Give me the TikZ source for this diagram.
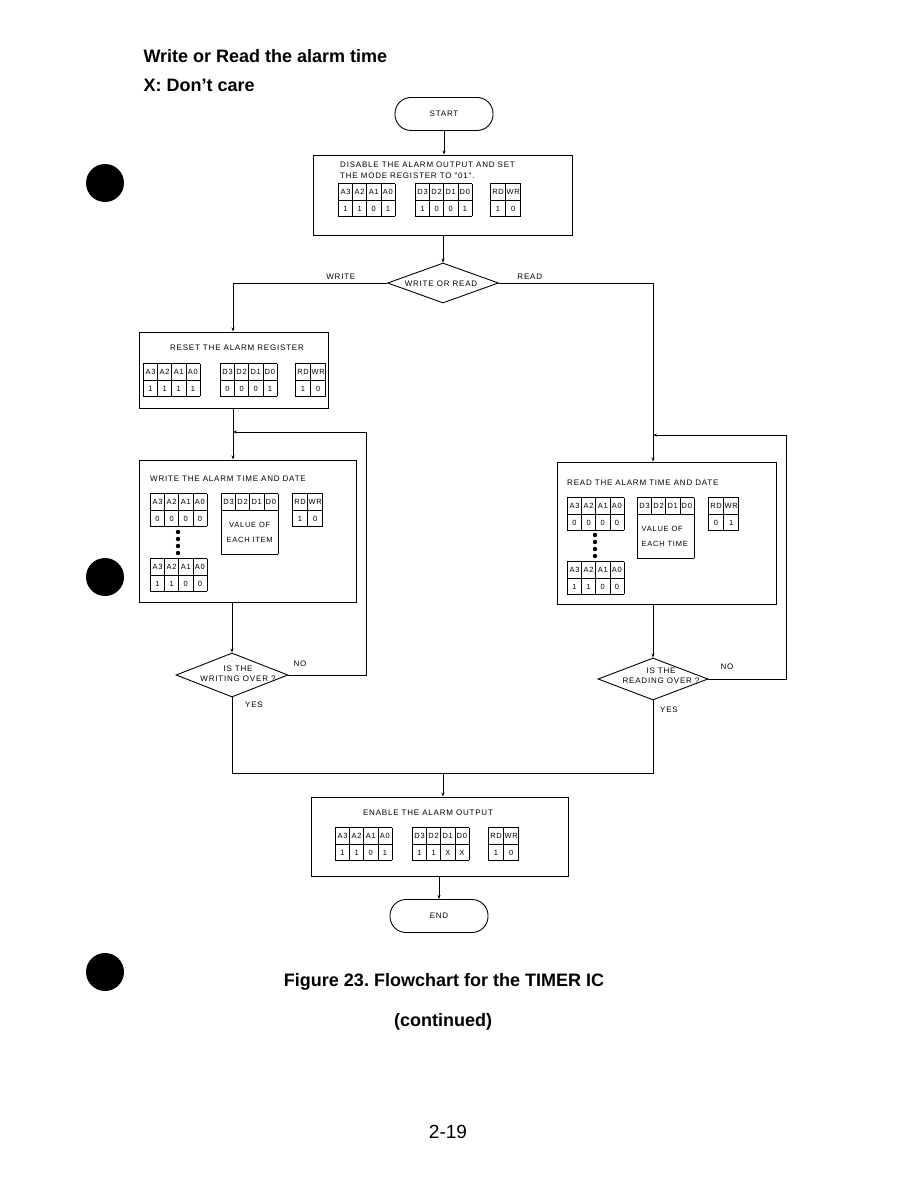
\documentclass[tikz,border=0pt]{standalone}
\usepackage{fontspec}
\setmainfont{Liberation Sans}
\newfontfamily\boxfont[LetterSpace=10]{Liberation Sans}
\usepackage{array}
\usetikzlibrary{arrows.meta,shapes.geometric,positioning}
\newcolumntype{C}{>{\centering\arraybackslash\rule[-5pt]{0pt}{16pt}}p{13.5pt}}
\newcolumntype{W}{>{\centering\arraybackslash\rule[-5pt]{0pt}{16pt}}p{14.5pt}}
\setlength\tabcolsep{0pt}
\setlength\arrayrulewidth{0.6pt}
\frenchspacing
% register tables
\newcommand\addrtab[4]{\begin{tabular}{|C|C|C|C|}\hline A3&A2&A1&A0\\\hline #1&#2&#3&#4\\\hline\end{tabular}}
\newcommand\datatab[4]{\begin{tabular}{|C|C|C|C|}\hline D3&D2&D1&D0\\\hline #1&#2&#3&#4\\\hline\end{tabular}}
\newcommand\rdwrtab[2]{\begin{tabular}{|W|W|}\hline RD&WR\\\hline #1&#2\\\hline\end{tabular}}
\newcommand\valtab[3]{\begin{tabular}{|C|C|C|C|}\hline D3&D2&D1&D0\\\hline
  \multicolumn{4}{|c|}{\parbox[c][44pt][c]{52pt}{#1#2\\[7pt]#3}}\\\hline\end{tabular}}

\begin{document}
\begin{tikzpicture}[x=1pt,y=-1pt,
    box/.style={draw, line width=1pt, inner sep=0pt},
    term/.style={draw, line width=0.9pt, rounded corners=16pt, minimum width=98pt, minimum height=33pt, font=\boxfont\fontsize{8}{9}\selectfont},
    dec/.style={draw, diamond, line width=0.9pt, inner sep=0pt},
    txt/.style={font=\boxfont\fontsize{8}{11.5}\selectfont, inner sep=0pt},
    reg/.style={anchor=north west, inner sep=0pt, font=\boxfont\fontsize{7.5}{8}\selectfont},
    arr/.style={-{Stealth[length=4pt,width=3pt]}, line width=0.8pt},
    ln/.style={line width=0.8pt}
]
\useasboundingbox (0,0) rectangle (918,1188);

% headings
\node[anchor=base west, font=\bfseries\fontsize{18}{20}\selectfont] (head) at (140,63) {Write or Read the alarm time};
\node[anchor=base west, font=\bfseries\fontsize{18}{20}\selectfont] (care) at (140,92) {X: Don't care};

% page bullets
\fill (105,183) circle (19);
\fill (105,577) circle (19);
\fill (105,972) circle (19);

% start and mode register
\node[term] (start) at (444,114) {START};
\node[box, minimum width=259pt, minimum height=80pt] (mode) at (442.5,195) {};
\node[txt, anchor=north west, align=left] (modetx) at (340,161.5) {DISABLE THE ALARM OUTPUT AND SET\\THE MODE REGISTER TO "01".};
\node[reg] (modea) at (338,183) {\addrtab{1}{1}{0}{1}};
\node[reg] (moded) at (415,183) {\datatab{1}{0}{0}{1}};
\node[reg] (moderw) at (490,183) {\rdwrtab{1}{0}};

\node[dec, minimum width=111pt, minimum height=40pt] (wr) at (443,283) {};
\node[txt] (wrtx) at (441,284) {WRITE OR READ};

% reset the alarm register
\node[box, minimum width=189pt, minimum height=76pt] (reset) at (233.5,370) {};
\node[txt] (resettx) at (237,348) {RESET THE ALARM REGISTER};
\node[reg] (reseta) at (143,363) {\addrtab{1}{1}{1}{1}};
\node[reg] (resetd) at (220,363) {\datatab{0}{0}{0}{1}};
\node[reg] (resetrw) at (295,363) {\rdwrtab{1}{0}};

% write branch
\node[box, minimum width=217pt, minimum height=142pt] (write) at (247.5,531) {};
\node[txt, anchor=west] (writetx) at (150,479) {WRITE THE ALARM TIME AND DATE};
\node[reg] (writea) at (150,493) {\addrtab{0}{0}{0}{0}};
\node[reg] (writeb) at (150,558) {\addrtab{1}{1}{0}{0}};
\node[reg] (writed) at (221,493) {\valtab{\centering}{VALUE OF}{EACH ITEM}};
\node[reg] (writerw) at (292,493) {\rdwrtab{1}{0}};
\foreach \y in {532,539,546,553} \fill (178,\y) circle (2.2);

\node[dec, minimum width=112pt, minimum height=44pt] (wover) at (232,675) {};
\node[txt, align=center, font=\boxfont\fontsize{8}{10}\selectfont] (wovertx) at (238,674) {IS THE\\WRITING OVER ?};

% read branch
\node[box, minimum width=219pt, minimum height=142pt] (read) at (666.5,533) {};
\node[txt, anchor=west] (readtx) at (567,483) {READ THE ALARM TIME AND DATE};
\node[reg] (reada) at (567,497) {\addrtab{0}{0}{0}{0}};
\node[reg] (readb) at (567,561) {\addrtab{1}{1}{0}{0}};
\node[reg] (readd) at (637,497) {\valtab{\raggedright\hspace*{2pt}}{VALUE OF}{\hspace*{2pt}EACH TIME}};
\node[reg] (readrw) at (708,497) {\rdwrtab{0}{1}};
\foreach \y in {535,542,549,556} \fill (595,\y) circle (2.2);

\node[dec, minimum width=110pt, minimum height=42pt] (rover) at (653,679) {};
\node[txt, align=center, font=\boxfont\fontsize{8}{10}\selectfont] (rovertx) at (661,676) {IS THE\\READING OVER ?};

% enable and end
\node[box, minimum width=257pt, minimum height=79pt] (enable) at (439.5,836.5) {};
\node[txt] (enabletx) at (428,813) {ENABLE THE ALARM OUTPUT};
\node[reg] (enablea) at (335,827) {\addrtab{1}{1}{0}{1}};
\node[reg] (enabled) at (412,827) {\datatab{1}{1}{X}{X}};
\node[reg] (enablerw) at (488,827) {\rdwrtab{1}{0}};
\node[term] (end) at (439,916) {END};

\coordinate (wcorner) at (366,432);
\coordinate (wjoin) at (233,432);
\coordinate (rcorner) at (786,435);
\coordinate (rjoin) at (653,435);
\coordinate (merge) at (443,773);

\draw[arr] (start.south) -- (start.south |- mode.north);
\draw[arr] (mode.south -| wr.north) -- (wr.north);
\draw[arr] (wr.west) -| (reset.north -| wjoin) node[pos=0.15, above=3pt, txt] (wlbl) {WRITE};
\draw[arr] (wr.east) -| (read.north -| rover.north) node[pos=0.1, above=3pt, txt] (rlbl) {READ};
\draw[arr] (reset.south -| wjoin) -- (write.north -| wjoin);
\draw[arr] (write.south -| wover.north) -- (wover.north);
\draw[arr] (read.south -| rover.north) -- (rover.north);
\draw[arr] (wover.east) -| (wcorner) -- (wjoin);
\draw[arr] (rover.east) -| (rcorner) -- (rjoin);
\node[txt] (wno) at (300,664) {NO};
\node[txt] (rno) at (727,667) {NO};
\node[txt] (wyes) at (254,705) {YES};
\node[txt] (ryes) at (669,710) {YES};
\draw[ln] (wover.south) |- (merge);
\draw[ln] (rover.south) |- (merge);
\draw[arr] (merge) -- (merge |- enable.north);
\draw[arr] (enable.south -| end.north) -- (end.north);

% caption
\node[anchor=base, font=\bfseries\fontsize{18}{20}\selectfont] (cap) at (444,986) {Figure 23. Flowchart for the TIMER IC};
\node[anchor=base, font=\bfseries\fontsize{18}{20}\selectfont] (cont) at (443,1026) {(continued)};
\node[anchor=base, font=\fontsize{19}{21}\selectfont] (page) at (448,1138) {2-19};
\end{tikzpicture}
\end{document}
